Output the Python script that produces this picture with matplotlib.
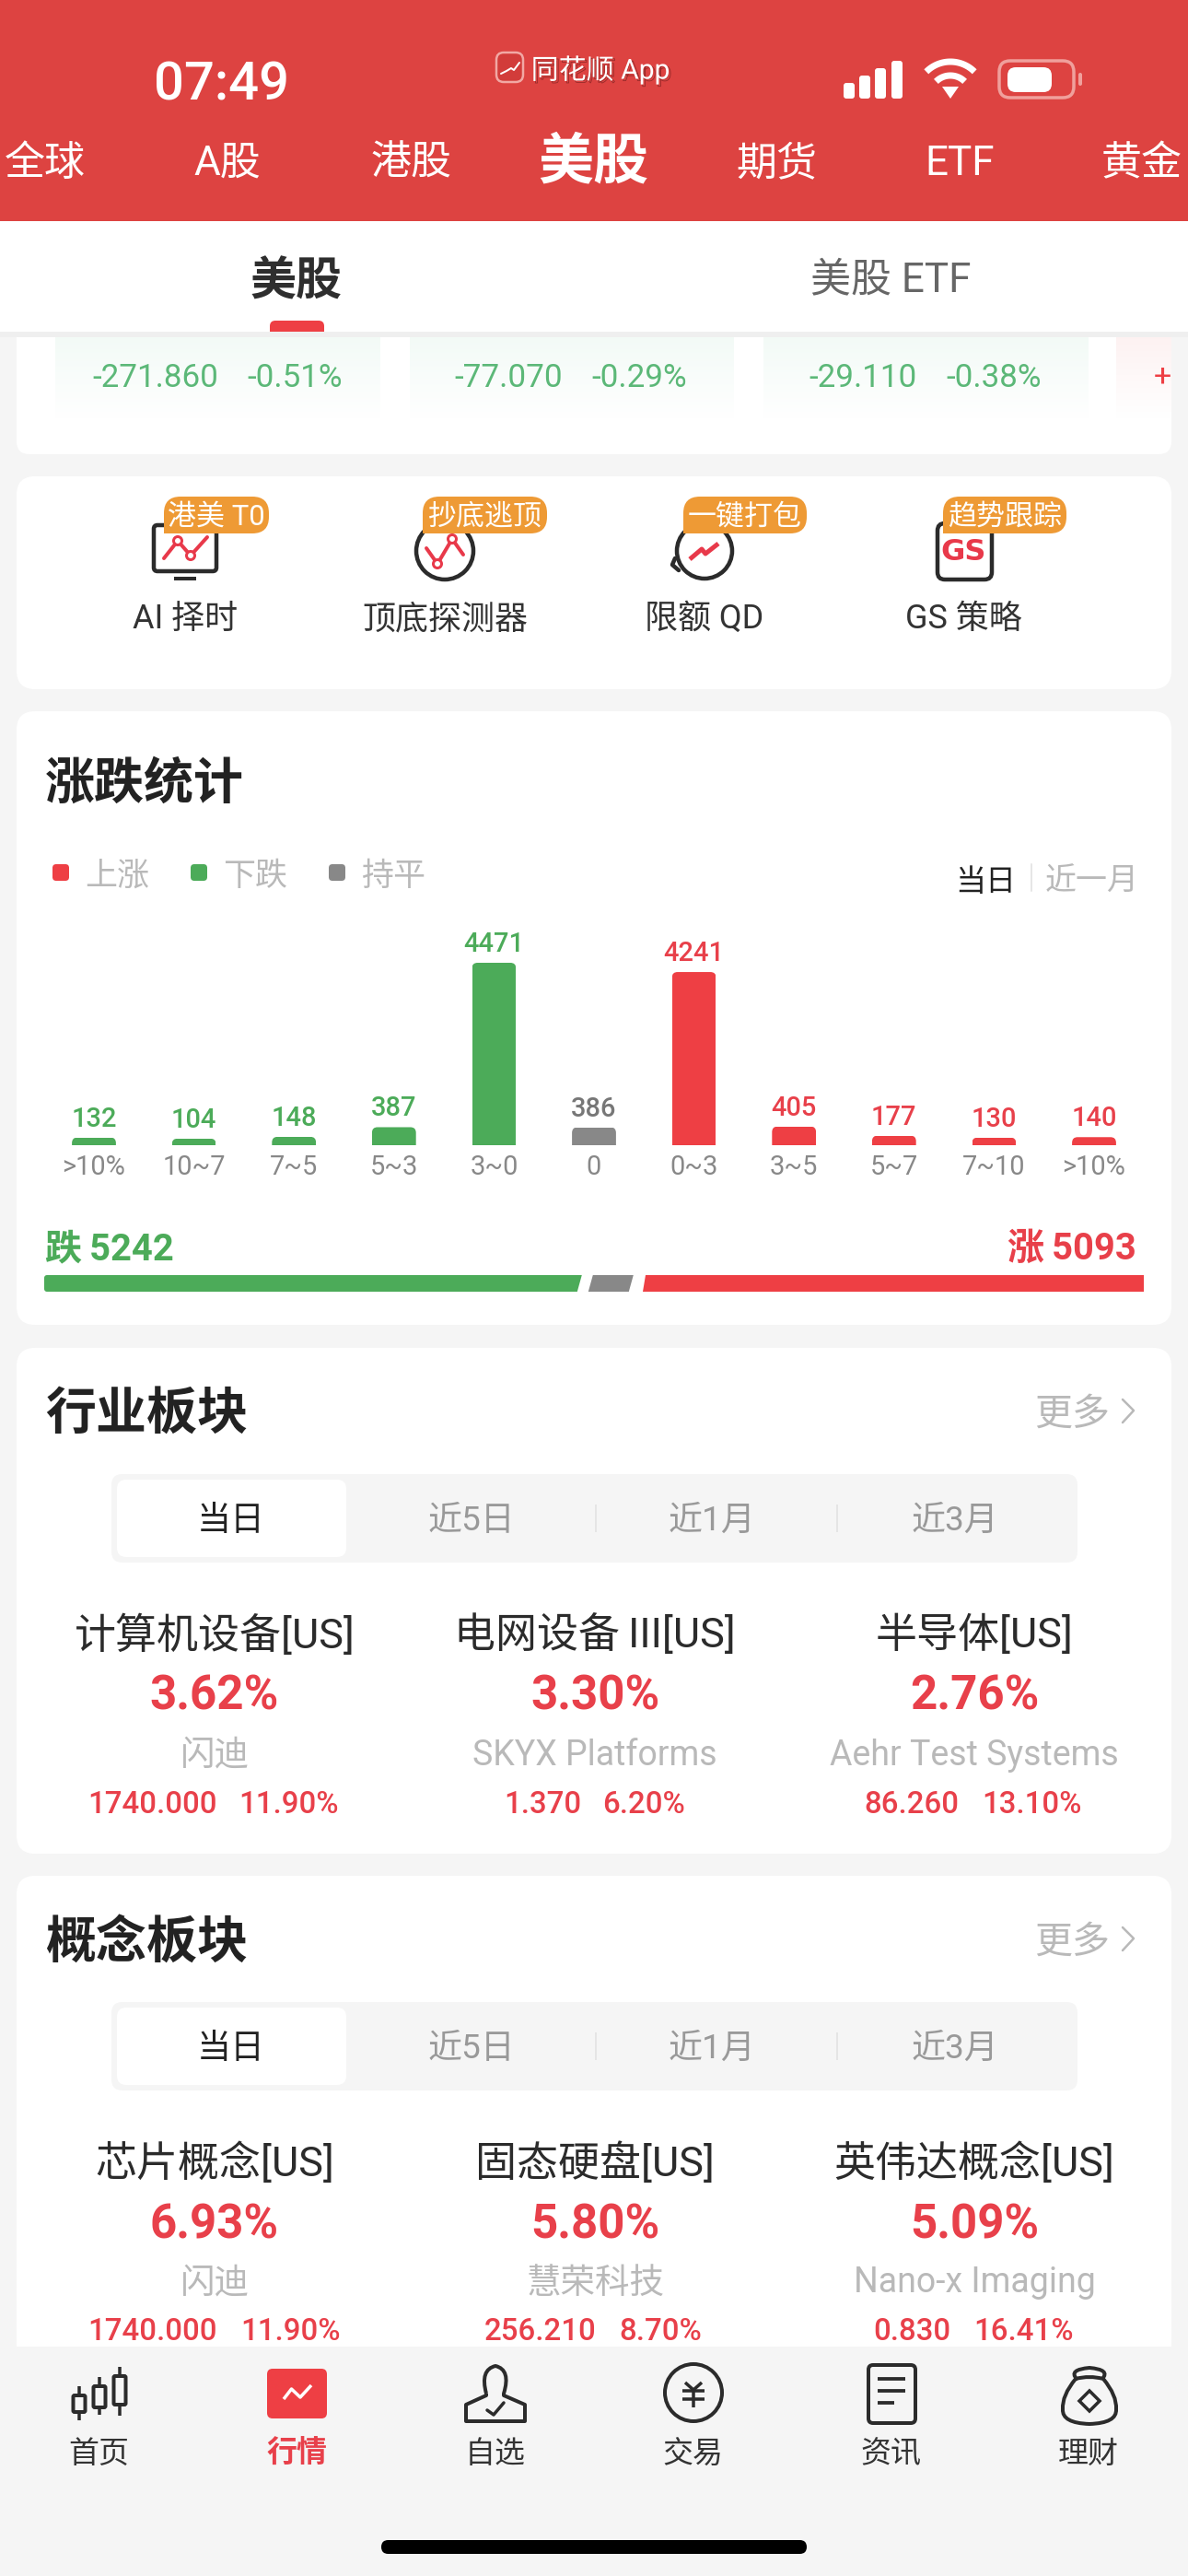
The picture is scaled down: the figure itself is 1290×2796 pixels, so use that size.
import numpy as np
import matplotlib
matplotlib.use("Agg")
from matplotlib import pyplot as plt
from matplotlib import patheffects
from matplotlib.patches import FancyBboxPatch, PathPatch, Polygon, Rectangle, Circle
from matplotlib.path import Path

plt.rcParams['font.family'] = ['Roboto', 'Noto Sans CJK SC', 'DejaVu Sans']

# chart data
bins = ['>10%', '10~7', '7~5', '5~3', '3~0', '0', '0~3', '3~5', '5~7', '7~10', '>10%']
counts = [132, 104, 148, 387, 4471, 386, 4241, 405, 177, 130, 140]
kinds = ['down', 'down', 'down', 'down', 'down', 'flat', 'up', 'up', 'up', 'up', 'up']

# page texts
nav_tabs = ['全球', 'A股', '港股', '美股', '期货', 'ETF', '黄金']
index_changes = [('-271.860', '-0.51%'), ('-77.070', '-0.29%'), ('-29.110', '-0.38%')]
tools = ['AI 择时', '顶底探测器', '限额 QD', 'GS 策略']
tool_badges = ['港美 T0', '抄底逃顶', '一键打包', '趋势跟踪']
periods = ['当日', '近5日', '近1月', '近3月']
bottom_tabs = ['首页', '行情', '自选', '交易', '资讯', '理财']

industry_names = ['计算机设备[US]', '电网设备\u2009III[US]', '半导体[US]']
industry_pcts = ['3.62%', '3.30%', '2.76%']
industry_leaders = ['闪迪', 'SKYX Platforms', 'Aehr Test Systems']
industry_prices = ['1740.000', '1.370', '86.260']
industry_moves = ['11.90%', '6.20%', '13.10%']

concept_names = ['芯片概念[US]', '固态硬盘[US]', '英伟达概念[US]']
concept_pcts = ['6.93%', '5.80%', '5.09%']
concept_leaders = ['闪迪', '慧荣科技', 'Nano-x Imaging']
concept_prices = ['1740.000', '256.210', '0.830']
concept_moves = ['11.90%', '8.70%', '16.41%']

W, H = 1290, 2796
HEAD = '#DD4341'
BG = '#F5F5F5'
RED = '#EE3F44'
TXT_RED = '#E8404A'
GREEN = '#4CAB59'
SOFT_GREEN = '#5CB878'
GRAY = '#888888'
LIGHT = '#B9B9B9'
DARK = '#2B2B2B'
ORANGE = '#EE9A35'
kind_colors = {'down': GREEN, 'flat': GRAY, 'up': RED}
label_colors = {'down': GREEN, 'flat': '#777777', 'up': TXT_RED}

fig = plt.figure(figsize=(W / 100, H / 100), dpi=100, facecolor=BG)
ui = fig.add_axes([0, 0, 1, 1])
ui.set_xlim(0, W)
ui.set_ylim(H, 0)
ui.axis('off')


def px(n):
    return n * 0.72


def text(x, y, s, size, color=DARK, ha='center', weight='normal', z=5, **kw):
    # centred text sits a little high against the screenshot
    return ui.text(x, y + 3, s, fontsize=px(size), color=color, ha=ha, va='center',
                   fontweight=weight, zorder=z, **kw)


def box(x0, y0, x1, y1, r=0, fc='white', ec='none', lw=0, z=1):
    if r == 0:
        p = Rectangle((x0, y0), x1 - x0, y1 - y0, fc=fc, ec=ec, lw=px(lw), zorder=z)
    else:
        p = FancyBboxPatch((x0 + r, y0 + r), x1 - x0 - 2 * r, y1 - y0 - 2 * r,
                           boxstyle=f'round,pad={r},rounding_size={r}',
                           fc=fc, ec=ec, lw=px(lw), zorder=z)
    ui.add_patch(p)
    return p


def line(xs, ys, color=DARK, lw=4, z=4, cap='round'):
    ui.plot(xs, ys, color=color, lw=px(lw), zorder=z, solid_capstyle=cap, solid_joinstyle='round')


def corner_box(x0, y0, x1, y1, r, fc, z=3):
    # badge shape: square only at the bottom left
    verts = [(x0, y1), (x0, y0 + r), (x0, y0), (x0 + r, y0), (x1 - r, y0), (x1, y0), (x1, y0 + r),
             (x1, y1 - r), (x1, y1), (x1 - r, y1), (x0, y1)]
    codes = [Path.MOVETO, Path.LINETO, Path.CURVE3, Path.CURVE3, Path.LINETO, Path.CURVE3, Path.CURVE3,
             Path.LINETO, Path.CURVE3, Path.CURVE3, Path.LINETO]
    ui.add_patch(PathPatch(Path(verts, codes), fc=fc, ec='none', zorder=z))


# ---- header
box(0, 0, W, 240, fc=HEAD, z=1)
text(241, 90, '07:49', 58, 'white', weight='medium')
shadow = [patheffects.SimpleLineShadow(offset=(1.5, -1.5), shadow_color='#7A2020', alpha=0.7, linewidth=0.6),
          patheffects.Normal()]
text(652, 73, '同花顺 App', 30, 'white', path_effects=shadow)
box(539, 57, 568, 89, r=8, fc='#D23C3A', ec='#F2A8A4', lw=2.5, z=3)
line([544, 550, 555, 558, 564], [80, 77, 74, 76, 68], 'white', 2, z=4)
for x0, h in zip([916, 933, 950, 968], [17, 25, 33, 41]):
    box(x0, 107 - h, x0 + 12, 107, r=3, fc='white', z=3)
# wifi
ang = np.radians(np.linspace(-45, 45, 30))
for r in (37, 22):
    line(1032 + r * np.sin(ang), 104 - r * np.cos(ang), 'white', 7, cap='butt')
ui.add_patch(Polygon([(1023, 94), (1041, 94), (1032, 107)], fc='white', zorder=4))
# battery
box(1085, 66, 1166, 106, r=12, fc='none', ec='#F0A09C', lw=3.5, z=3)
box(1094, 73, 1142, 100, r=9, fc='white', z=4)
box(1171, 79, 1175, 93, r=2, fc='#F0A09C', z=3)

for x, name in zip([49, 247, 447, 644, 843, 1042, 1240], nav_tabs):
    if name == '美股':
        text(x, 174, name, 60, 'white', weight='bold')
    else:
        text(x, 175, name, 44, 'white')

# ---- sub tabs
box(0, 240, W, 360, fc='white', z=4)
box(0, 360, W, 366, fc='#EFEFEF', z=2)
text(322, 304, '美股', 50, '#2E2E2E', weight='bold')
text(967, 301, '美股 ETF', 44, '#666666')
corner = Rectangle((293, 348), 59, 12, transform=ui.transData)
box(293, 348, 352, 368, r=6, fc=RED, z=5).set_clip_path(corner)

# ---- index card (scrolled away under the tabs)
box(18, 340, 1272, 493, r=14, z=1)
for x0, x1, c in [(60, 413, '#F2FAF6'), (445, 797, '#F2FAF6'), (829, 1182, '#F2FAF6'), (1212, 1272, '#FDF1F1')]:
    grad = np.linspace(0, 1, 40).reshape(-1, 1)
    rgb = np.array(matplotlib.colors.to_rgb(c))
    img = rgb[None, None, :] * (1 - grad[..., None]) + np.ones((1, 1, 3)) * grad[..., None]
    ui.imshow(img, extent=(x0, x1, 455, 360), aspect='auto', zorder=1.5)
ui.set_xlim(0, W)
ui.set_ylim(H, 0)
for (val, pct), xv, xp in zip(index_changes, [169, 552, 937], [320, 694, 1079]):
    text(xv, 407, val, 35, SOFT_GREEN)
    text(xp, 407, pct, 35, SOFT_GREEN)
text(1272, 407, '+', 34, RED, ha='right', clip_on=True)

# ---- tool card
box(18, 517, 1272, 748, r=20)
for name, tag, cx, (bx0, bx1) in zip(tools, tool_badges, [201, 483, 765, 1046],
                                     [(178, 292), (459, 594), (742, 876), (1024, 1158)]):
    text(cx, 669, name, 36, '#333333')
    corner_box(bx0, 539, bx1, 579, 18, ORANGE, z=3)
    text((bx0 + bx1) / 2, 558, tag, 31, 'white', z=4)
# monitor
box(167, 570, 235, 620, r=4, fc='none', ec=DARK, lw=4.5, z=2)
line([189, 213], [628, 628], DARK, 4, cap='butt')
line([178, 193, 207, 225], [606, 587, 603, 583], '#E8394A', 4, z=2.5)
for x, y in [(193, 587), (207, 603)]:
    ui.add_patch(Circle((x, y), 4.5, fc='white', ec='#E8394A', lw=px(3), zorder=2.6))
# circle with peak
ui.add_patch(Circle((483, 598), 31, fc='none', ec=DARK, lw=px(4.5), zorder=2))
line([463, 475, 491, 503], [595, 612, 585, 602], '#E8394A', 4, z=2.5)
for x, y in [(475, 612), (491, 585)]:
    ui.add_patch(Circle((x, y), 4.5, fc='white', ec='#E8394A', lw=px(3), zorder=2.6))
# circle with arrow
ui.add_patch(Circle((765, 598), 30, fc='none', ec=DARK, lw=px(4.5), zorder=2))
line([733, 730, 737], [606, 613, 619], DARK, 4.5, z=2)
line([749, 762, 766, 780], [607, 596, 601, 590], '#E8394A', 5, z=2.5, cap='butt')
# document
box(1018, 568, 1077, 629, r=8, fc='none', ec=DARK, lw=4.5, z=2)
ui.text(1046, 600, 'GS', fontsize=px(32), color='#E8394A', ha='center', va='center',
        family=['DejaVu Sans'], fontweight='bold', zorder=2.5)

# ---- stats card
box(18, 772, 1272, 1438, r=20)
text(49, 849, '涨跌统计', 54, '#222222', ha='left', weight='bold')
for x0, lab, kind in zip([57, 207, 357], ['上涨', '下跌', '持平'], ['up', 'down', 'flat']):
    box(x0, 938, x0 + 18, 956, r=4, fc=kind_colors[kind], z=3)
    text(x0 + 35, 949, lab, 35, LIGHT, ha='left')
text(1070, 955, '当日', 33, '#222222', weight='medium')
line([1120, 1120], [938, 967], '#E6E6E6', 2)
text(1186, 955, '近一月', 34, LIGHT)

# bars, on their own axes
BAR_FLOOR = 60  # the app keeps small bars visible
base_px, top_px, left_px, right_px = 1243, 1045, 47.7, 1242.3
ax = fig.add_axes([left_px / W, 1 - base_px / H, (right_px - left_px) / W, (base_px - top_px) / H])
ax.patch.set_alpha(0)
positions = np.arange(len(counts))
bars = ax.bar(positions, [c + BAR_FLOOR for c in counts], bottom=-BAR_FLOOR, width=0.44,
              color=[kind_colors[k] for k in kinds])
ax.set_xlim(-0.5, len(counts) - 0.5)
ax.set_ylim(-BAR_FLOOR, max(counts))
for s in ax.spines.values():
    s.set_visible(False)
ax.set_yticks([])
ax.set_xticks(positions, bins)
ax.tick_params(axis='x', length=0, pad=px(10), labelsize=px(29), labelcolor=GRAY)
for b, c, k in zip(bars, counts, kinds):
    ax.annotate(str(c), (b.get_x() + b.get_width() / 2, c), xytext=(0, px(20)), textcoords='offset points',
                ha='center', va='center', fontsize=px(29), color=label_colors[k], fontweight='medium',
                annotation_clip=False)
    # round the top corners only
    e = b.get_window_extent()
    clip = FancyBboxPatch((e.x0 + 6, H - e.y1 + 6), e.width - 12, e.height + 20,
                          boxstyle='round,pad=6,rounding_size=6', transform=ui.transData)
    b.set_clip_path(clip)

fall = sum(c for c, k in zip(counts, kinds) if k == 'down')
rise = sum(c for c, k in zip(counts, kinds) if k == 'up')
flat = sum(c for c, k in zip(counts, kinds) if k == 'flat')
text(49, 1353, f'跌\u2009{fall}', 40, GREEN, ha='left', weight='bold')
text(1234, 1353, f'涨\u2009{rise}', 40, TXT_RED, ha='right', weight='bold')

# share bar
x0, x1, y0, y1, slant = 48, 1242, 1384, 1402, 5
green_end = x0 + (x1 - x0) * fall / (fall + flat + rise)
gray_w = (x1 - x0) * flat / (fall + flat + rise) + 3
gray_start = green_end + 10
gray_end = gray_start + gray_w
red_start = gray_end + 13
ui.add_patch(FancyBboxPatch((x0 + 3, y0 + 3), 20, y1 - y0 - 6, boxstyle='round,pad=3,rounding_size=3',
                            fc=GREEN, ec='none', zorder=3))
ui.add_patch(Polygon([(x0 + 5, y0), (green_end, y0), (green_end - slant, y1), (x0 + 5, y1)], fc=GREEN, zorder=3))
ui.add_patch(Polygon([(gray_start + slant - 3, y0), (gray_end, y0), (gray_end - slant, y1), (gray_start - 3, y1)],
                     fc=GRAY, zorder=3))
ui.add_patch(Polygon([(red_start, y0), (x1, y0), (x1, y1), (red_start - slant + 2, y1)], fc=RED, zorder=3))


# ---- board cards
def board_card(top, bottom, title, names, pcts, leaders):
    off = top - 1463
    box(18, top, 1272, bottom, r=20)
    text(49, 1533 + off, title, 55, '#222222', ha='left', weight='bold')
    text(1123, 1532 + off, '更多', 41, LIGHT, ha='left')
    line([1219, 1231, 1219], [1519 + off, 1531 + off, 1544 + off], LIGHT, 2.5)
    box(121, 1600 + off, 1170, 1696 + off, r=12, fc=BG, z=2)
    box(127, 1606 + off, 376, 1690 + off, r=10, fc='white', z=3)
    for x, lab, i in zip([251, 512, 773, 1037], periods, range(4)):
        text(x, 1648 + off, lab, 37, '#222222' if i == 0 else '#999999')
    for x in (647, 909):
        line([x, x], [1633 + off, 1663 + off], '#E0E0E0', 1.5, cap='butt')
    for i, cx in enumerate([233, 646, 1058]):
        text(cx, 1772 + off, names[i], 45, '#2B2B2B')
        text(cx, 1839 + off, pcts[i], 51, TXT_RED, weight='bold')
        text(cx, 1902 + off, leaders[i], 37.5, LIGHT)


board_card(1463, 2012, '行业板块', industry_names, industry_pcts, industry_leaders)
for xv, xp, p, m in zip([166, 589, 990], [314, 699, 1120], industry_prices, industry_moves):
    text(xv, 1956, p, 33, TXT_RED, weight='medium')
    text(xp, 1956, m, 33, TXT_RED, weight='medium')

board_card(2036, 2600, '概念板块', concept_names, concept_pcts, concept_leaders)
for xv, xp, p, m in zip([166, 587, 990], [315, 717, 1112], concept_prices, concept_moves):
    text(xv, 2528, p, 33, TXT_RED, weight='medium')
    text(xp, 2528, m, 33, TXT_RED, weight='medium')

# ---- bottom tab bar
box(0, 2547, W, H, fc=BG, z=8)
for x, lab in zip([107, 322, 538, 752, 967, 1182], bottom_tabs):
    if lab == '行情':
        text(x, 2661, lab, 33, TXT_RED, weight='bold', z=9)
    else:
        text(x, 2661, lab, 33, '#333333', z=9)

# candles
for cx, w0, w1, b0, b1 in [(86, 2590, 2627, 2600, 2618), (108, 2580, 2621, 2590, 2613), (130, 2569, 2622, 2579, 2610)]:
    line([cx, cx], [w0, w1], DARK, 3.5, z=9, cap='butt')
    box(cx - 6.5, b0, cx + 6.5, b1, r=1.5, fc=BG, ec=DARK, lw=4, z=9.5)
# market tile
box(290, 2571, 355, 2625, r=6, fc=RED, z=9)
line([308, 316.5, 326, 338], [2604, 2593, 2602, 2589], 'white', 3.5, z=9.5, cap='butt')
# person
person = Path([(528, 2598), (521, 2572), (538, 2568), (555, 2572), (547, 2598), (547, 2600),
               (570, 2610), (570, 2628), (506, 2628), (506, 2610), (528, 2600), (528, 2598)],
              [Path.MOVETO, Path.CURVE3, Path.CURVE3, Path.CURVE3, Path.CURVE3, Path.LINETO,
               Path.LINETO, Path.LINETO, Path.LINETO, Path.LINETO, Path.LINETO, Path.LINETO])
ui.add_patch(PathPatch(person, fc='none', ec=DARK, lw=px(4), zorder=9, joinstyle='round'))
line([529, 536, 547], [2616, 2621, 2608], DARK, 3.5, z=9)
# coin
ui.add_patch(Circle((753, 2597), 31, fc='none', ec=DARK, lw=px(4), zorder=9))
line([744, 753, 762], [2586, 2594, 2586], DARK, 3.5, z=9, cap='butt')
line([741, 765], [2595, 2595], DARK, 3.5, z=9, cap='butt')
line([741, 765], [2604, 2604], DARK, 3.5, z=9, cap='butt')
line([753, 753], [2594, 2613], DARK, 3.5, z=9, cap='butt')
# news
box(943, 2567, 994, 2630, r=5, fc='none', ec=DARK, lw=4, z=9)
for y, x1_ in [(2582, 983), (2595, 983), (2608, 971)]:
    line([953, x1_], [y, y], DARK, 3.8, z=9, cap='butt')
# money bag
bag = Path([(1168, 2582), (1153, 2600), (1154, 2615), (1153, 2630), (1183, 2631), (1213, 2630),
            (1212, 2615), (1213, 2600), (1198, 2582), (1183, 2578), (1168, 2582)],
           [Path.MOVETO] + [Path.CURVE3] * 10)
ui.add_patch(PathPatch(bag, fc='none', ec=DARK, lw=px(4), zorder=9))
knot = Path([(1169, 2582), (1160, 2572), (1183, 2570), (1206, 2572), (1197, 2582)],
            [Path.MOVETO, Path.CURVE3, Path.CURVE3, Path.CURVE3, Path.CURVE3])
ui.add_patch(PathPatch(knot, fc='none', ec=DARK, lw=px(4), zorder=9))
ui.add_patch(Polygon([(1183, 2595), (1194, 2606), (1183, 2617), (1172, 2606)], fc='none', ec=DARK, lw=px(3.5), zorder=9))

# home indicator
box(414, 2757, 876, 2772, r=7.5, fc='black', z=9)

fig.savefig('out.png', dpi=100, facecolor=BG)
